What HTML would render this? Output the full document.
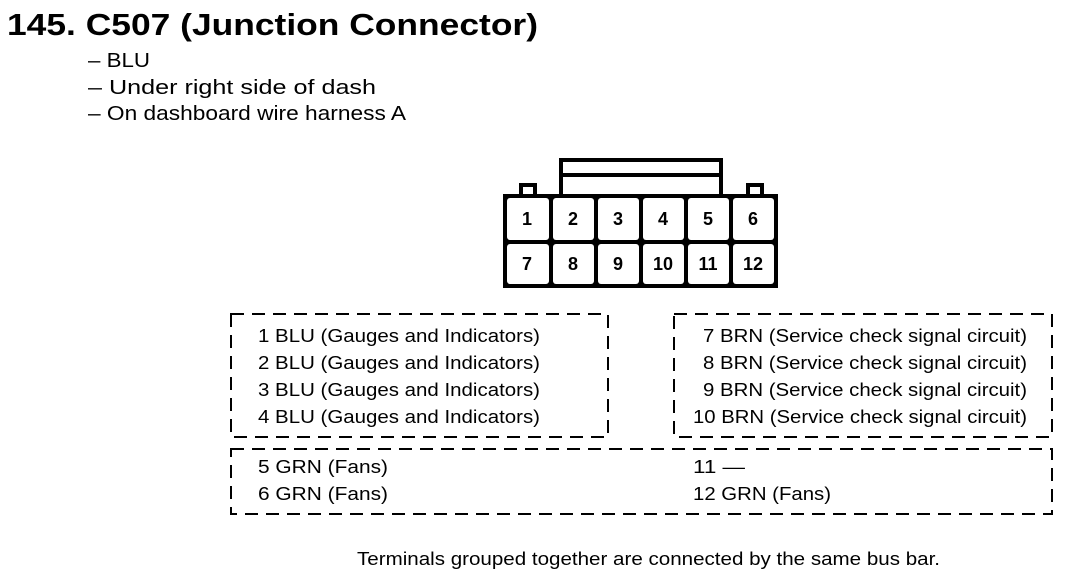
<!DOCTYPE html>
<html><head><meta charset="utf-8"><style>
html,body{margin:0;padding:0;background:#fff;}
svg{display:block;font-family:"Liberation Sans",Arial,sans-serif;}
</style></head><body>
<svg width="1072" height="582" viewBox="0 0 1072 582" xmlns="http://www.w3.org/2000/svg">
<text x="7" y="35" font-size="31" font-weight="bold" textLength="531" lengthAdjust="spacingAndGlyphs">145. C507 (Junction Connector)</text>
<g font-size="20">
<text x="88" y="67" textLength="62" lengthAdjust="spacingAndGlyphs">– BLU</text>
<text x="88" y="94" textLength="288" lengthAdjust="spacingAndGlyphs">– Under right side of dash</text>
<text x="88" y="120" textLength="318" lengthAdjust="spacingAndGlyphs">– On dashboard wire harness A</text>
</g>
<!-- connector -->
<g fill="none" stroke="#000" stroke-width="4">
<rect x="561" y="160" width="160" height="36"/>
<line x1="561" y1="175" x2="721" y2="175"/>
<rect x="521" y="185" width="14" height="12"/>
<rect x="748" y="185" width="14" height="12"/>
</g>
<rect x="503" y="194" width="275" height="94" fill="#000"/>
<g fill="#fff">
<rect x="507" y="198" width="42" height="42" rx="3"/>
<rect x="553" y="198" width="41" height="42" rx="3"/>
<rect x="598" y="198" width="41" height="42" rx="3"/>
<rect x="643" y="198" width="41" height="42" rx="3"/>
<rect x="688" y="198" width="41" height="42" rx="3"/>
<rect x="733" y="198" width="41" height="42" rx="3"/>
<rect x="507" y="244" width="42" height="40" rx="3"/>
<rect x="553" y="244" width="41" height="40" rx="3"/>
<rect x="598" y="244" width="41" height="40" rx="3"/>
<rect x="643" y="244" width="41" height="40" rx="3"/>
<rect x="688" y="244" width="41" height="40" rx="3"/>
<rect x="733" y="244" width="41" height="40" rx="3"/>
</g>
<g font-size="18" font-weight="bold" text-anchor="middle">
<text x="527" y="225">1</text><text x="573" y="225">2</text><text x="618" y="225">3</text>
<text x="663" y="225">4</text><text x="708" y="225">5</text><text x="753" y="225">6</text>
<text x="527" y="270">7</text><text x="573" y="270">8</text><text x="618" y="270">9</text>
<text x="663" y="270">10</text><text x="708" y="270">11</text><text x="753" y="270">12</text>
</g>
<!-- dashed boxes -->
<g fill="none" stroke="#000" stroke-width="2" stroke-dasharray="13,8">
<rect x="231" y="314" width="377" height="123"/>
<rect x="674" y="314" width="378" height="123"/>
<rect x="231" y="449" width="821" height="65"/>
</g>
<g font-size="18" lengthAdjust="spacingAndGlyphs">
<text x="258" y="342" textLength="282" lengthAdjust="spacingAndGlyphs">1  BLU (Gauges and Indicators)</text>
<text x="258" y="369" textLength="282" lengthAdjust="spacingAndGlyphs">2  BLU (Gauges and Indicators)</text>
<text x="258" y="396" textLength="282" lengthAdjust="spacingAndGlyphs">3  BLU (Gauges and Indicators)</text>
<text x="258" y="423" textLength="282" lengthAdjust="spacingAndGlyphs">4  BLU (Gauges and Indicators)</text>
<text x="703" y="342" textLength="324" lengthAdjust="spacingAndGlyphs">7  BRN (Service check signal circuit)</text>
<text x="703" y="369" textLength="324" lengthAdjust="spacingAndGlyphs">8  BRN (Service check signal circuit)</text>
<text x="703" y="396" textLength="324" lengthAdjust="spacingAndGlyphs">9  BRN (Service check signal circuit)</text>
<text x="693" y="423" textLength="334" lengthAdjust="spacingAndGlyphs">10  BRN (Service check signal circuit)</text>
<text x="258" y="473" textLength="130" lengthAdjust="spacingAndGlyphs">5  GRN (Fans)</text>
<text x="258" y="500" textLength="130" lengthAdjust="spacingAndGlyphs">6  GRN (Fans)</text>
<text x="693" y="473" textLength="52" lengthAdjust="spacingAndGlyphs">11  —</text>
<text x="693" y="500" textLength="138" lengthAdjust="spacingAndGlyphs">12  GRN (Fans)</text>
<text x="357" y="565" textLength="583" lengthAdjust="spacingAndGlyphs">Terminals grouped together are connected by the same bus bar.</text>
</g>
</svg>
</body></html>
